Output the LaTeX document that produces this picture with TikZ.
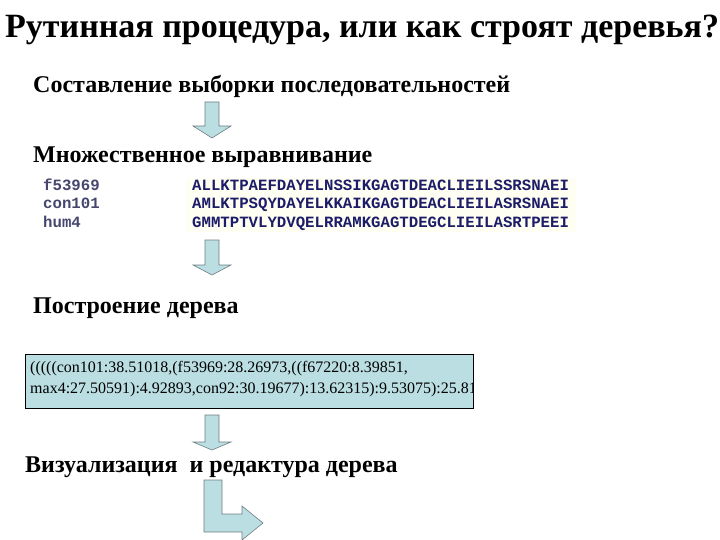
\documentclass[tikz,border=0pt]{standalone}
\usepackage{fontspec}
\setmainfont{Liberation Serif}
\setmonofont{Liberation Mono}
\usetikzlibrary{positioning}
\definecolor{paleblue}{RGB}{186,222,226}
\definecolor{arrowline}{RGB}{110,125,130}
\definecolor{seqblue}{RGB}{28,28,105}
\definecolor{nameblue}{RGB}{70,70,110}

\begin{document}
\begin{tikzpicture}[x=1pt, y=-1pt,
    heading/.style={anchor=base west, inner sep=0pt, font=\fontsize{24}{26}\selectfont\bfseries},
    seq/.style={anchor=base west, inner sep=0pt, align=left, font=\fontsize{15.7}{18}\selectfont\ttfamily\bfseries},
    blockarrow/.style={draw=arrowline, fill=paleblue, line width=0.6pt, line join=miter}
]
    \useasboundingbox (0,0) rectangle (720,540);

    \node[anchor=base west, inner sep=0pt, font=\fontsize{34}{36}\selectfont\bfseries] (title) at (5,38) {Рутинная процедура, или как строят деревья?};

    \node[heading] (sample) at (33,93) {Составление выборки последовательностей};
    \node[heading] (msa) at (33,163) {Множественное выравнивание};
    \node[heading] (build) at (33,313) {Построение дерева};
    \node[heading] (view) at (25,472) {Визуализация\ \ и редактура дерева};

    % alignment (base = last line)
    \fill[yellow!5] (186,178) rectangle (576,232);
    \node[seq, text=nameblue] (names) at (43,227) {f53969\\con101\\hum4};
    \node[seq, text=seqblue] (seqs) at (192,227) {ALLKTPAEFDAYELNSSIKGAGTDEACLIEILSSRSNAEI\\AMLKTPSQYDAYELKKAIKGAGTDEACLIEILASRSNAEI\\GMMTPTVLYDVQELRRAMKGAGTDEGCLIEILASRTPEEI};

    % newick box
    \node[draw=black, fill=paleblue, line width=0.8pt, anchor=north west, minimum width=448, minimum height=54, inner sep=0pt] (tree) at (25,354) {};
    \begin{scope}
        \clip (tree.south west) rectangle (tree.north east);
        \node[anchor=base west, inner sep=0pt, align=left, font=\fontsize{16}{21}\selectfont] (newick) at (30,393)
            {(((((con101:38.51018,(f53969:28.26973,((f67220:8.39851,\\max4:27.50591):4.92893,con92:30.19677):13.62315):9.53075):25.81};
    \end{scope}

    % arrows
    \foreach \top/\neck/\tip in {102/126/138, 240/265/275, 415/442/450}
        \draw[blockarrow] (205,\top) -- (219,\top) -- (219,\neck) -- (231,\neck) -- (212,\tip) -- (193,\neck) -- (205,\neck) -- cycle;

    \draw[blockarrow] (204,480) -- (222,480) -- (222,514) -- (242,514) -- (242,506) -- (263,523) -- (242,540) -- (242,532) -- (204,532) -- cycle;
\end{tikzpicture}
\end{document}
